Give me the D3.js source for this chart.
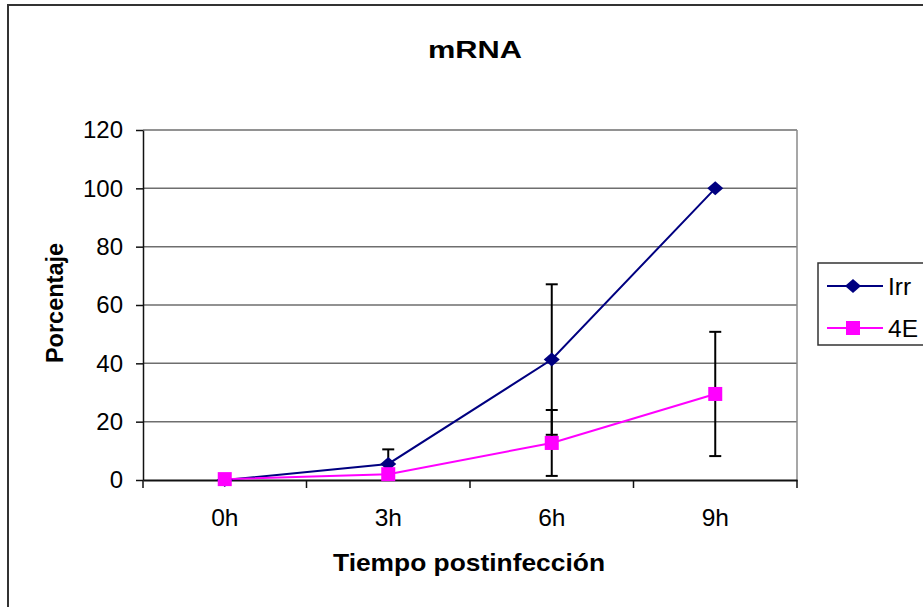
<!DOCTYPE html>
<html><head><meta charset="utf-8">
<script src="https://cdn.jsdelivr.net/npm/d3@7"></script>
<style>html,body{margin:0;padding:0;background:#fff;overflow:hidden}</style>
</head><body>
<svg id="chart" width="923" height="607"></svg>
<script>
const categories = ["0h", "3h", "6h", "9h"];
const irrValues = [0, 5.5, 41.3, 100];
const irrErrors = [0, 5, 25.8, 0];
const e4Values = [0.3, 2, 12.7, 29.5];
const e4Errors = [0, 1.5, 11.3, 21.3];
const yTicks = [0, 20, 40, 60, 80, 100, 120];
const seriesNames = ["Irr", "4E"];

const svg = d3.select("#chart");
const font = "Arial, 'Liberation Sans', sans-serif";
const m = {left: 143, top: 130, right: 797, bottom: 480};

// outer border
svg.append("rect").attr("x", 8).attr("y", 5).attr("width", 930).attr("height", 620)
  .attr("fill", "none").attr("stroke", "#333").attr("stroke-width", 2);

const x = d3.scaleBand().domain(categories).range([m.left, m.right]);
const y = d3.scaleLinear().domain([0, 120]).range([m.bottom, m.top]);

// gridlines
svg.append("g").selectAll("line").data(yTicks.filter(d => d > 0)).join("line")
  .attr("x1", m.left).attr("x2", m.right).attr("y1", d => y(d)).attr("y2", d => y(d))
  .attr("stroke", "#6e6e6e").attr("stroke-width", 1.5);
// plot area right border
svg.append("line").attr("x1", m.right).attr("x2", m.right).attr("y1", m.top).attr("y2", m.bottom)
  .attr("stroke", "#8a8a8a").attr("stroke-width", 1.5);

// y axis
const yAxis = svg.append("g").attr("transform", `translate(${m.left},0)`)
  .call(d3.axisLeft(y).tickValues(yTicks).tickSize(7).tickPadding(13).tickSizeOuter(0));
yAxis.select(".domain").attr("stroke", "#111").attr("stroke-width", 1.5);
yAxis.selectAll(".tick line").attr("stroke", "#111").attr("stroke-width", 1.5);
yAxis.selectAll("text").attr("font-family", font).attr("font-size", 24).attr("fill", "#000");

// x axis
const xAxis = svg.append("g").attr("transform", `translate(0,${m.bottom})`)
  .call(d3.axisBottom(x).tickSize(0).tickPadding(0));
xAxis.select(".domain").attr("stroke", "#111").attr("stroke-width", 2);
xAxis.selectAll("text").attr("font-family", font).attr("font-size", 24.5).attr("fill", "#000")
  .attr("dy", null).attr("y", 46);
const bounds = [m.left].concat(categories.map(c => x(c) + x.bandwidth()));
svg.append("g").selectAll("line").data(bounds).join("line")
  .attr("x1", d => d).attr("x2", d => d).attr("y1", m.bottom).attr("y2", m.bottom + 8)
  .attr("stroke", "#111").attr("stroke-width", 1.5);

const cx = c => x(c) + x.bandwidth() / 2;

function drawErr(vals, errs) {
  const g = svg.append("g").attr("stroke", "#000").attr("stroke-width", 2);
  vals.forEach((v, i) => {
    const e = errs[i];
    if (!e) return;
    const X = cx(categories[i]);
    g.append("line").attr("x1", X).attr("x2", X).attr("y1", y(v + e)).attr("y2", y(Math.max(0, v - e)));
    g.append("line").attr("x1", X - 6).attr("x2", X + 6).attr("y1", y(v + e)).attr("y2", y(v + e));
    g.append("line").attr("x1", X - 6).attr("x2", X + 6).attr("y1", y(Math.max(0, v - e))).attr("y2", y(Math.max(0, v - e)));
  });
}
drawErr(irrValues, irrErrors);
drawErr(e4Values, e4Errors);

const line = d3.line().x((d, i) => cx(categories[i])).y(d => y(d));
svg.append("path").datum(irrValues).attr("d", line).attr("fill", "none").attr("stroke", "#000080").attr("stroke-width", 2);
svg.append("path").datum(e4Values).attr("d", line).attr("fill", "none").attr("stroke", "#ff00ff").attr("stroke-width", 2);

const diamond = (X, Y) => `M${X},${Y - 7}L${X + 8},${Y}L${X},${Y + 7}L${X - 8},${Y}Z`;
svg.append("g").selectAll("path").data(irrValues).join("path")
  .attr("d", (d, i) => diamond(cx(categories[i]), y(d))).attr("fill", "#000080");
svg.append("g").selectAll("rect").data(e4Values).join("rect")
  .attr("x", (d, i) => cx(categories[i]) - 7).attr("y", d => y(d) - 7)
  .attr("width", 14).attr("height", 14).attr("fill", "#ff00ff");

// titles
svg.append("text").attr("x", 475).attr("y", 58).attr("text-anchor", "middle")
  .attr("font-family", font).attr("font-weight", "bold").attr("font-size", 24)
  .attr("textLength", 94).attr("lengthAdjust", "spacingAndGlyphs").text("mRNA");
svg.append("text").attr("x", 469).attr("y", 571).attr("text-anchor", "middle")
  .attr("font-family", font).attr("font-weight", "bold").attr("font-size", 24)
  .attr("textLength", 272).attr("lengthAdjust", "spacingAndGlyphs").text("Tiempo postinfección");
svg.append("text").attr("transform", "translate(63,303) rotate(-90)").attr("text-anchor", "middle")
  .attr("font-family", font).attr("font-weight", "bold").attr("font-size", 23.5)
  .text("Porcentaje");

// legend
const lg = svg.append("g");
lg.append("rect").attr("x", 818).attr("y", 263).attr("width", 120).attr("height", 82)
  .attr("fill", "#fff").attr("stroke", "#333").attr("stroke-width", 1.5);
const legY = [286, 328];
const colors = ["#000080", "#ff00ff"];
seriesNames.forEach((n, i) => {
  lg.append("line").attr("x1", 827).attr("x2", 883).attr("y1", legY[i]).attr("y2", legY[i])
    .attr("stroke", colors[i]).attr("stroke-width", 2);
  if (i === 0) lg.append("path").attr("d", diamond(853, legY[i])).attr("fill", colors[i]);
  else lg.append("rect").attr("x", 846).attr("y", legY[i] - 7).attr("width", 14).attr("height", 14).attr("fill", colors[i]);
  lg.append("text").attr("x", 888).attr("y", legY[i] + 9).attr("font-family", font).attr("font-size", 24.5).text(n);
});
</script>
</body></html>
